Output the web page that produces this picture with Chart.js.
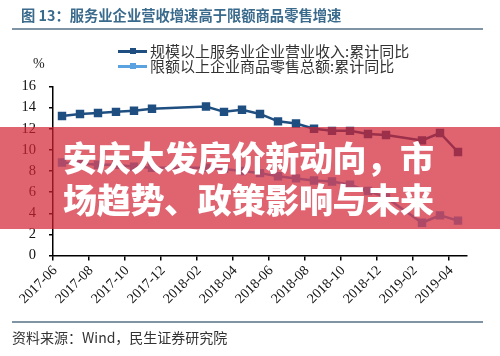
<!DOCTYPE html>
<html>
<head>
<meta charset="utf-8">
<script src="https://cdn.jsdelivr.net/npm/chart.js@4/dist/chart.umd.min.js"></script>
<style>
  html, body { margin: 0; padding: 0; background: #fff; }
  #wrap { position: relative; width: 500px; height: 356px; overflow: hidden; background: #fff; }
  #c { position: absolute; left: 0; top: 0; }
  .t { position: absolute; white-space: nowrap; }
  #title { left: 21px; top: 5px; font: bold 14.3px "Noto Sans CJK SC", sans-serif; color: #3a6a8c; line-height: 20px; }
  #rule1 { position: absolute; left: 12px; top: 28px; width: 471px; height: 2px; background: #7f95a5; }
  #rule2 { position: absolute; left: 12px; top: 321px; width: 471px; height: 2px; background: #7f95a5; }
  #pct { left: 33px; top: 55px; font: 14px "Liberation Serif", serif; color: #222; line-height: 18px; }
  .leg { position: absolute; left: 118px; height: 16px; font: 15px "Noto Sans CJK SC", sans-serif; color: #333; line-height: 16px; display: flex; align-items: center; }
  .mk { position: relative; width: 29px; height: 16px; margin-right: 3px; }
  .mk .ln { position: absolute; left: 0; top: 6.5px; width: 29px; height: 3px; }
  .mk .sq { position: absolute; left: 11.5px; top: 5px; width: 6px; height: 6px; }
  #src { left: 12px; top: 328px; font: 14px "Noto Sans CJK SC", sans-serif; color: #333; line-height: 18px; }
  #banner { position: absolute; left: 0; top: 127px; width: 500px; height: 102px; background: rgba(210, 34, 51, 0.7); }
  .bt { position: absolute; left: 63px; font: 900 34px "Noto Sans CJK SC", sans-serif; color: #fff; line-height: 40px; letter-spacing: -0.3px; }
</style>
</head>
<body>
<div id="wrap">
  <canvas id="c" width="500" height="356"></canvas>
  <div class="t" id="title">图 13：服务业企业营收增速高于限额商品零售增速</div>
  <div id="rule1"></div>
  <div class="t" id="pct">%</div>
  <div class="leg" id="leg1" style="top:43px"><span class="mk"><span class="ln" style="background:#1f4e80"></span><span class="sq" style="background:#1f4e80"></span></span><span id="l1"></span></div>
  <div class="leg" id="leg2" style="top:58px"><span class="mk"><span class="ln" style="background:#5ba3e0"></span><span class="sq" style="background:#5ba3e0"></span></span><span id="l2"></span></div>
  <div id="banner">
    <div class="bt" style="top:10px">安庆大发房价新动向，市</div>
    <div class="bt" style="top:52px">场趋势、政策影响与未来</div>
  </div>
  <div id="rule2"></div>
  <div class="t" id="src">资料来源：Wind，民生证券研究院</div>
</div>
<script>
const months = ["2017-06","2017-07","2017-08","2017-09","2017-10","2017-11","2017-12",
  "2018-01","2018-02","2018-03","2018-04","2018-05","2018-06","2018-07","2018-08",
  "2018-09","2018-10","2018-11","2018-12","2019-01","2019-02","2019-03","2019-04"];
const seriesNames = ["规模以上服务业企业营业收入:累计同比", "限额以上企业商品零售总额:累计同比"];
const serviceRevenue = [13.2, 13.4, 13.5, 13.6, 13.7, 13.9, null, null, 14.1, 13.6, 13.8,
  13.4, 12.7, 12.5, 12.0, 11.8, 11.8, 11.5, 11.4, null, 10.9, 11.6, 9.8];
const retailSales = [8.8, 8.7, 8.6, 8.6, 8.4, 8.3, null, null, 8.3, 8.2, 8.0,
  7.8, 7.5, 7.3, 7.1, 7.0, 6.7, 6.1, 5.5, null, 3.1, 3.8, 3.3];
const yTicks = [0, 2, 4, 6, 8, 10, 12, 14, 16];

document.getElementById('l1').textContent = seriesNames[0];
document.getElementById('l2').textContent = seriesNames[1];

new Chart(document.getElementById('c'), {
  type: 'line',
  data: {
    labels: months,
    datasets: [
      { label: seriesNames[0], data: serviceRevenue, borderColor: '#1f4e80', backgroundColor: '#1f4e80',
        borderWidth: 2.5, pointStyle: 'rect', pointRadius: 4.2, spanGaps: true, tension: 0 },
      { label: seriesNames[1], data: retailSales, borderColor: '#5ba3e0', backgroundColor: '#5ba3e0',
        borderWidth: 2.5, pointStyle: 'rect', pointRadius: 4.2, spanGaps: true, tension: 0 }
    ]
  },
  options: {
    responsive: false,
    animation: false,
    devicePixelRatio: 1,
    layout: { padding: { top: 86.5, left: 0, right: 33, bottom: 0 } },
    plugins: { legend: { display: false }, tooltip: { enabled: false } },
    scales: {
      x: {
        type: 'category',
        offset: true,
        afterFit: s => { s.height = 100.5; },
        border: { color: '#000', width: 1.5 },
        grid: { offset: true, drawOnChartArea: false, drawTicks: true, tickLength: 5,
                color: ctx => (ctx.index % 2 === 0 ? '#000' : 'rgba(0,0,0,0)'), lineWidth: 1.5 },
        ticks: {
          autoSkip: false, minRotation: 45, maxRotation: 45, labelOffset: -7, padding: 2,
          color: '#111', font: { family: 'Liberation Serif', size: 14 },
          callback: (v, i) => (i % 2 === 0 ? months[i] : '')
        }
      },
      y: {
        min: 0, max: 16,
        afterFit: s => { s.width = 53; },
        afterBuildTicks: s => { s.ticks = yTicks.map(v => ({ value: v })); },
        border: { color: '#000', width: 1.5 },
        grid: { drawOnChartArea: false, drawTicks: true, tickLength: 4, color: '#000', lineWidth: 1.5 },
        ticks: { padding: 13, color: '#111', font: { family: 'Liberation Serif', size: 14.5 } }
      }
    }
  }
});
</script>
</body>
</html>
